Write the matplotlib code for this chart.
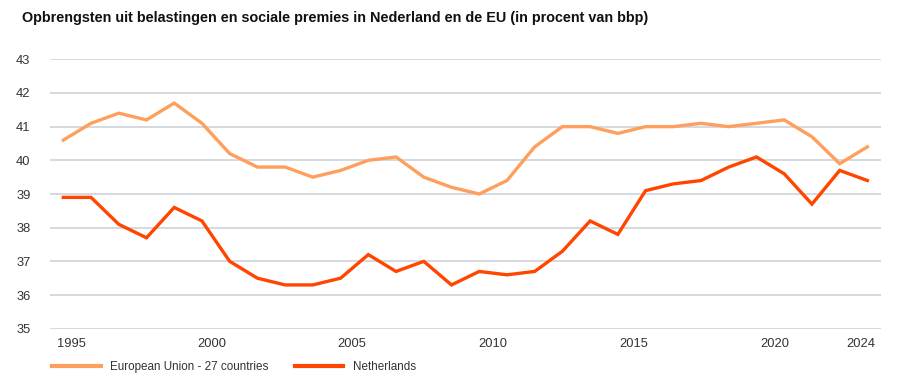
import matplotlib.pyplot as plt

plt.rcParams['font.family'] = ['Liberation Sans', 'DejaVu Sans']

years = list(range(1995, 2025))
eu27 = [40.6, 41.1, 41.4, 41.2, 41.7, 41.1, 40.2, 39.8, 39.8, 39.5,
        39.7, 40.0, 40.1, 39.5, 39.2, 39.0, 39.4, 40.4, 41.0, 41.0,
        40.8, 41.0, 41.0, 41.1, 41.0, 41.1, 41.2, 40.7, 39.9, 40.4]
nl = [38.9, 38.9, 38.1, 37.7, 38.6, 38.2, 37.0, 36.5, 36.3, 36.3,
      36.5, 37.2, 36.7, 37.0, 36.3, 36.7, 36.6, 36.7, 37.3, 38.2,
      37.8, 39.1, 39.3, 39.4, 39.8, 40.1, 39.6, 38.7, 39.7, 39.4]
tick_years = [1995, 2000, 2005, 2010, 2015, 2020, 2024]
# label positions are slightly shifted like in the original chart
tick_pos = [1995.3, 2000.36, 2005.41, 2010.49, 2015.58, 2020.67, 2023.76]

eu_color = '#FF9F5C'
nl_color = '#FF4500'
txt = '#333333'

fig = plt.figure(figsize=(9, 3.84), dpi=100)
ax = fig.add_axes([50 / 900, 1 - 328.7 / 384, 830.7 / 900, 269.4 / 384])

ax.plot(years, eu27, color=eu_color, lw=2.4, label='European Union - 27 countries',
        solid_joinstyle='miter')
ax.plot(years, nl, color=nl_color, lw=2.4, label='Netherlands', solid_joinstyle='miter')

ax.set_xlim(1994.52, 2024.48)
ax.set_ylim(35, 43)
ax.set_yticks(range(35, 44))
ax.set_xticks(tick_pos)
ax.set_xticklabels([str(y) for y in tick_years])
ax.yaxis.grid(True, color='#CDD3DA', lw=1.2)
ax.set_axisbelow(True)
for s in ax.spines.values():
    s.set_visible(False)
ax.tick_params(axis='both', length=0, labelsize=9.3, colors=txt)
ax.tick_params(axis='y', pad=14)
ax.tick_params(axis='x', pad=7)

fig.text(22 / 900, 1 - 18 / 384, 'Opbrengsten uit belastingen en sociale premies in Nederland en de EU (in procent van bbp)',
         fontsize=10.35, fontweight='bold', color='#111111', va='center', ha='left')

fig.legend(loc='center left', bbox_to_anchor=(44 / 900, 1 - 367 / 384), ncol=2, frameon=False,
           fontsize=8.4, handlelength=4.15, handletextpad=0.85, columnspacing=2.2,
           labelcolor=txt, borderpad=0.2)
for line in fig.legends[0].get_lines():
    line.set_linewidth(3)

fig.savefig('out.png', dpi=100)
